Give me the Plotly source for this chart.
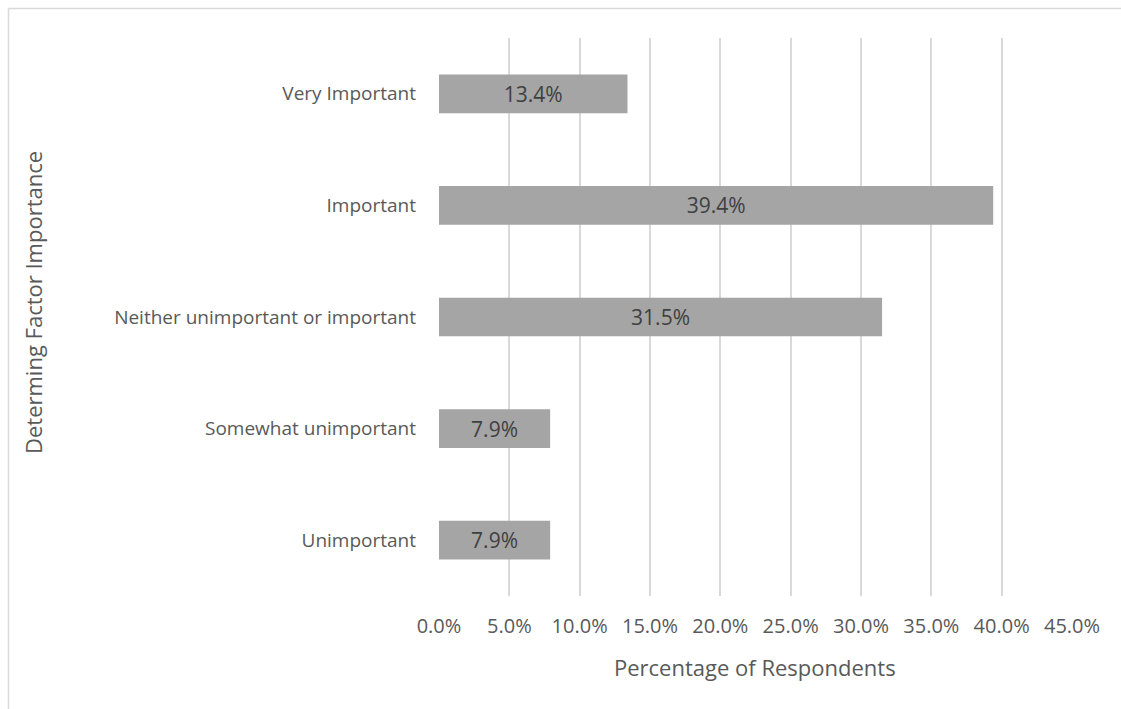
import plotly.graph_objects as go

categories = ["Very Important", "Important", "Neither unimportant or important",
              "Somewhat unimportant", "Unimportant"]
values = [13.4, 39.4, 31.5, 7.9, 7.9]
tick_vals = [0, 5, 10, 15, 20, 25, 30, 35, 40, 45]
tick_text = ["0.0%", "5.0%", "10.0%", "15.0%", "20.0%", "25.0%", "30.0%", "35.0%", "40.0%", "45.0%"]
labels = [f"{v:.1f}%" for v in values]

FONT = "Open Sans"
L, R, T, B = 439, 49, 38, 113
W, H = 1121, 709
PW, PH = W - L - R, H - T - B


def px_x(px):
    return (px - L) / PW


def px_y(py):
    return (H - B - py) / PH


fig = go.Figure(go.Bar(
    x=values, y=categories, orientation="h",
    marker=dict(color="#a5a5a5", line=dict(width=0)),
    text=labels, textposition="inside", insidetextanchor="middle",
    textfont=dict(family=FONT, size=21, color="#404040"),
    textangle=0, cliponaxis=False,
))

fig.update_layout(
    width=W, height=H,
    margin=dict(l=L, r=R, t=T, b=B),
    paper_bgcolor="white", plot_bgcolor="white",
    bargap=0.653,
    showlegend=False,
    uniformtext=dict(minsize=8, mode=False),
    font=dict(family=FONT, size=19, color="#595959"),
    xaxis=dict(range=[0, 45], tickvals=tick_vals, ticktext=tick_text,
               showgrid=True, gridcolor="#d9d9d9", gridwidth=1.5,
               zeroline=False, showline=False, ticks="",
               ticklabelstandoff=16,
               tickfont=dict(size=20, color="#595959")),
    yaxis=dict(categoryorder="array", categoryarray=categories[::-1],
               showgrid=False, zeroline=False, showline=False, ticks="",
               ticklabelstandoff=22,
               tickfont=dict(size=19, color="#595959")),
    annotations=[
        dict(text="Percentage of Respondents", xref="paper", yref="paper",
             x=px_x(755), y=px_y(667), xanchor="center", yanchor="middle",
             showarrow=False, font=dict(size=22, color="#595959")),
        dict(text="Determing Factor Importance", xref="paper", yref="paper",
             x=px_x(33), y=px_y(303), xanchor="center", yanchor="middle",
             textangle=-90, showarrow=False, font=dict(size=22, color="#595959")),
    ],
    shapes=[
        dict(type="line", xref="paper", yref="paper",
             x0=px_x(8.5), x1=px_x(1130), y0=px_y(8.5), y1=px_y(8.5),
             line=dict(color="#d9d9d9", width=1.5)),
        dict(type="line", xref="paper", yref="paper",
             x0=px_x(8.5), x1=px_x(8.5), y0=px_y(8.5), y1=px_y(720),
             line=dict(color="#d9d9d9", width=1.5)),
    ],
)
fig.write_html("out.html")
